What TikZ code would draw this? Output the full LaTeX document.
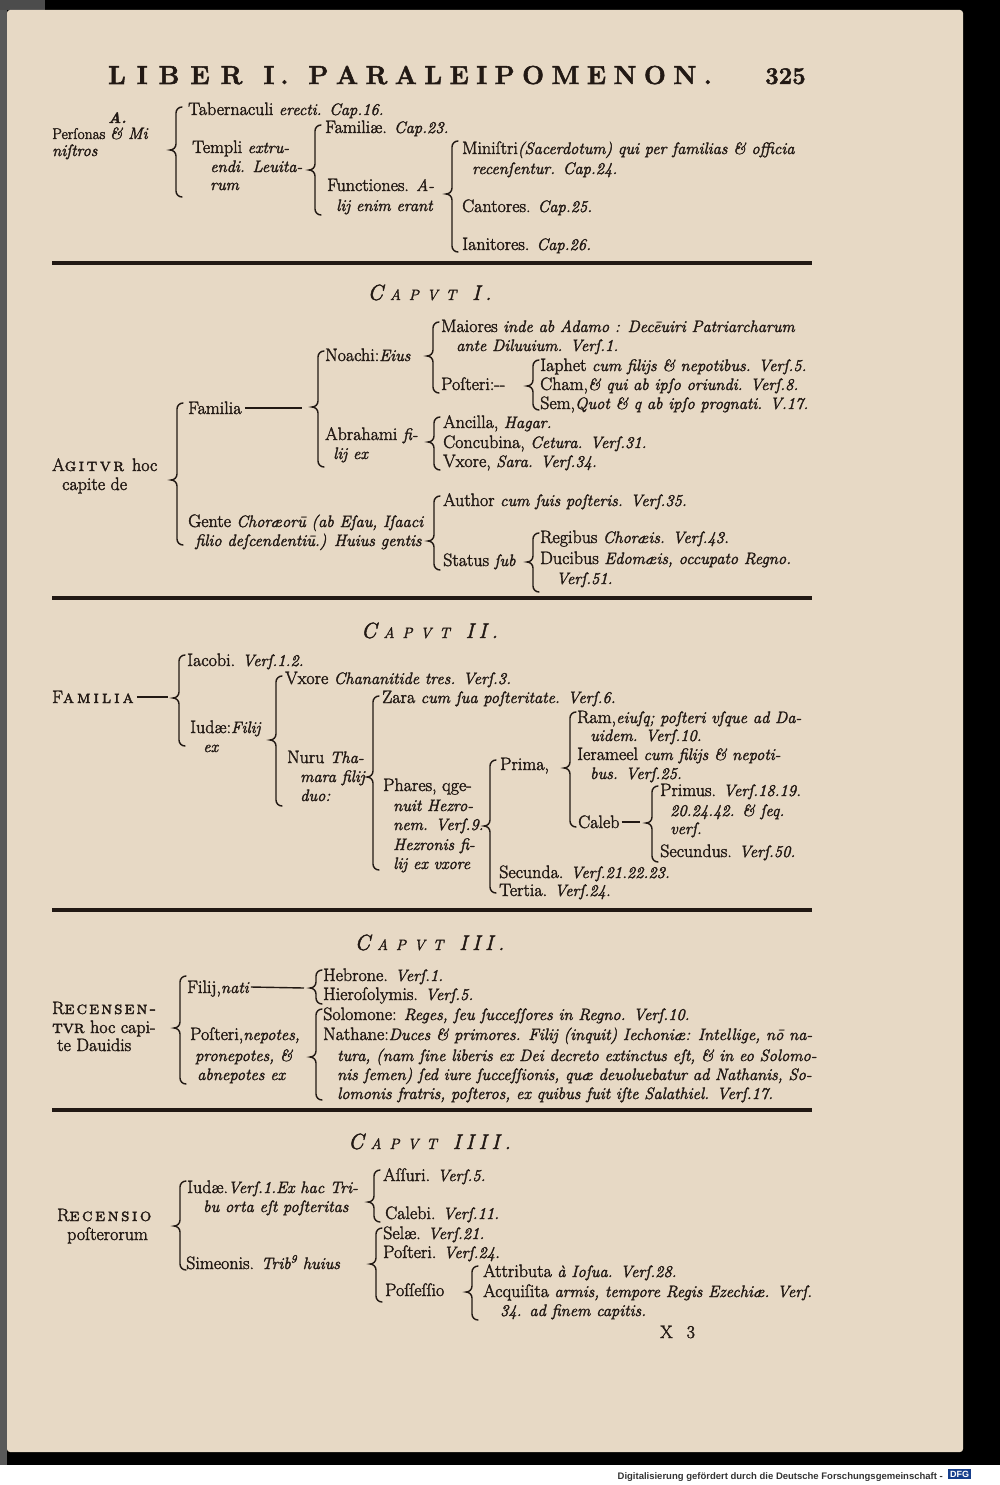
\documentclass[tikz,border=0pt]{standalone}
\usepackage{fontspec}
\setmainfont{Latin Modern Roman}[RawFeature={embolden=2}]
\newfontfamily\lmcaps{Latin Modern Roman Caps}[RawFeature={embolden=2}]
\newfontfamily\ftr{Liberation Sans}
\usetikzlibrary{calc}
\definecolor{page}{RGB}{231,217,197}
\definecolor{ink}{RGB}{34,25,20}
\definecolor{dfgblue}{RGB}{22,62,140}
\makeatletter
\newcommand\spo[2]{\def\spo@k{#1}\spo@a#2\@nil}
\def\spo@a#1{\ifx#1\@nil\else#1\kern\spo@k\relax\expandafter\spo@a\fi}
\makeatother
\newcommand\itx[1]{{\fontsize{16.5}{19}\selectfont\itshape #1}}
\newcommand\sca[1]{{\lmcaps #1}}
\newcommand\caput[1]{{\itshape\fontsize{22}{22}\selectfont C\kern7pt\fontsize{15}{15}\selectfont\spo{8pt}{APVT}\hspace{8pt}\fontsize{21}{22}\selectfont\spo{5pt}{#1}}}
\newcommand\Brc[4]{\draw[brc] (#1+6,#2) to[out=180,in=90] (#1,#2+6) -- (#1,#3-6) to[out=-90,in=0] (#1-6,#3) to[out=0,in=90] (#1,#3+6) -- (#1,#4-6) to[out=-90,in=180] (#1+6,#4);}
\tikzset{
  R/.style={anchor=base west,inner sep=0pt,text=ink,font=\fontsize{18}{19}\selectfont},
  hd/.style={anchor=base,inner sep=0pt,text=ink},
  brc/.style={draw=ink,line width=1.4pt,line cap=round},
  dsh/.style={draw=ink,line width=1.4pt},
  rule/.style={draw=ink,line width=3.8pt}
}
\begin{document}
\begin{tikzpicture}[x=1pt,y=-1pt]
\useasboundingbox (0,0) rectangle (1000,1485);
\fill[black] (0,0) rectangle (1000,1465);
\fill[white] (0,1465) rectangle (1000,1485);
\fill[black!65] (0,0) rectangle (7,1465);
\fill[black!70] (0,0) rectangle (45,10);
\fill[page,rounded corners=3pt] (7,10) rectangle (963,1452);
% header
\node[R,font=\fontsize{26}{28}\selectfont\bfseries] (hd) at (108,84) {\spo{11pt}{LIBER}\hspace{10pt}\spo{6pt}{I.}\hspace{14pt}\spo{7.5pt}{PARALEIPOMENON.}};
\node[R,font=\fontsize{24}{26}\selectfont\bfseries] (pg) at (765,84) {325};
% section A
\node[R,font=\fontsize{15}{17}\selectfont\bfseries\itshape] (a0) at (108,123) {A.};
\node[R,font=\fontsize{15.5}{17}\selectfont] (a1) at (52,139) {Perſonas \itx{\& Mi}};
\node[R] (a2) at (52,156) {\itx{niſtros}};
\Brc{176}{107}{150}{197}
\node[R] (a3) at (188,115) {Tabernaculi \itx{erecti. Cap.16.}};
\node[R] (a4) at (192,153) {Templi \itx{extru-}};
\node[R] (a5) at (210,172) {\itx{endi. Leuita-}};
\node[R] (a6) at (210,190) {\itx{rum}};
\Brc{315}{125}{170}{215}
\node[R] (a7) at (325,133) {Familiæ. \itx{Cap.23.}};
\node[R] (a8) at (327,191) {Functiones. \itx{A-}};
\node[R] (a9) at (336,211) {\itx{lij enim erant}};
\Brc{452}{141}{194}{252}
\node[R] (a10) at (462,154) {Miniſtri\itx{(Sacerdotum) qui per familias \& officia}};
\node[R] (a11) at (472,174) {\itx{recenſentur. Cap.24.}};
\node[R] (a12) at (462,212) {Cantores. \itx{Cap.25.}};
\node[R] (a13) at (462,250) {Ianitores. \itx{Cap.26.}};
\draw[rule] (52,263) coordinate (r1a) -- (812,263) coordinate (r1b);
% CAPUT I
\node[hd] (c1) at (432,300) {\caput{I.}};
\node[R] (b0) at (52,471) {A\sca{\spo{2.5pt}{gitvr}} hoc};
\node[R] (b1) at (62,490) {capite de};
\Brc{177}{403}{480}{545}
\node[R] (b2) at (188,414) {Familia};
\coordinate (tb2) at (302,408);
\draw[dsh] ($(b2.base east)+(3,-6)$) -- (tb2);
\Brc{318}{351}{407}{467}
\node[R] (b3) at (325,361) {Noachi:\itx{Eius}};
\node[R] (b4) at (325,440) {Abrahami \itx{fi-}};
\node[R] (b5) at (333,459) {\itx{lij ex}};
\Brc{433}{322}{356}{393}
\node[R] (b6) at (441,332) {Maiores \itx{inde ab Adamo : Decēuiri Patriarcharum}};
\node[R] (b7) at (456,351) {\itx{ante Diluuium. Verſ.1.}};
\node[R] (b8) at (441,390) {Poſteri:-{}-};
\Brc{533}{360}{386}{410}
\node[R] (b9) at (540,371) {Iaphet \itx{cum filijs \& nepotibus. Verſ.5.}};
\node[R] (b10) at (540,390) {Cham,\itx{\& qui ab ipſo oriundi. Verſ.8.}};
\node[R] (b11) at (540,409) {Sem,\itx{Quot \& q ab ipſo prognati. V.17.}};
\Brc{434}{417}{442}{470}
\node[R] (b12) at (443,428) {Ancilla, \itx{Hagar.}};
\node[R] (b13) at (443,448) {Concubina, \itx{Cetura. Verſ.31.}};
\node[R] (b14) at (443,467) {Vxore, \itx{Sara. Verſ.34.}};
\node[R] (b15) at (188,527) {Gente \itx{Choræorū (ab Eſau, Iſaaci}};
\node[R] (b16) at (195,546) {\itx{filio deſcendentiū.) Huius gentis}};
\Brc{434}{496}{541}{570}
\node[R] (b17) at (443,506) {Author \itx{cum ſuis poſteris. Verſ.35.}};
\node[R] (b18) at (443,566) {Status \itx{ſub}};
\Brc{533}{533}{562}{592}
\node[R] (b19) at (540,543) {Regibus \itx{Choræis. Verſ.43.}};
\node[R] (b20) at (540,564) {Ducibus \itx{Edomæis, occupato Regno.}};
\node[R] (b21) at (556,584) {\itx{Verſ.51.}};
\draw[rule] (52,598) coordinate (r2a) -- (812,598) coordinate (r2b);
% CAPUT II
\node[hd] (c2) at (432,638) {\caput{II.}};
\node[R] (d0) at (52,703) {F\sca{\spo{3pt}{amilia}}};
\coordinate (td0) at (168,697);
\draw[dsh] ($(d0.base east)+(0,-6)$) -- (td0);
\Brc{179}{655}{698}{746}
\node[R] (d1) at (187,666) {Iacobi. \itx{Verſ.1.2.}};
\node[R] (d2) at (190,733) {Iudæ:\itx{Filij}};
\node[R] (d3) at (203,752) {\itx{ex}};
\Brc{276}{676}{740}{806}
\node[R] (d4) at (285,684) {Vxore \itx{Chananitide tres. Verſ.3.}};
\node[R] (d5) at (287,763) {Nuru \itx{Tha-}};
\node[R] (d6) at (300,782) {\itx{mara filij}};
\node[R] (d7) at (300,801) {\itx{duo:}};
\Brc{373}{696}{777}{870}
\node[R] (d8) at (382,703) {Zara \itx{cum ſua poſteritate. Verſ.6.}};
\node[R] (d9) at (383,791) {Phares, qge-};
\node[R] (d10) at (393,811) {\itx{nuit Hezro-}};
\node[R] (d11) at (393,830) {\itx{nem. Verſ.9.}};
\node[R] (d12) at (393,850) {\itx{Hezronis fi-}};
\node[R] (d13) at (393,869) {\itx{lij ex vxore}};
\Brc{490}{760}{826}{893}
\node[R] (d14) at (500,770) {Prima,};
\Brc{570}{712}{768}{827}
\node[R] (d15) at (577,723) {Ram,\itx{eiuſq; poſteri vſque ad Da-}};
\node[R] (d16) at (590,741) {\itx{uidem. Verſ.10.}};
\node[R] (d17) at (577,760) {Ierameel \itx{cum filijs \& nepoti-}};
\node[R] (d18) at (590,779) {\itx{bus. Verſ.25.}};
\node[R] (d19) at (578,828) {Caleb};
\coordinate (td19) at (640,822);
\draw[dsh] ($(d19.base east)+(2,-6)$) -- (td19);
\Brc{652}{786}{823}{862}
\node[R] (d20) at (660,796) {Primus. \itx{Verſ.18.19.}};
\node[R] (d21) at (670,816) {\itx{20.24.42. \& ſeq.}};
\node[R] (d22) at (670,834) {\itx{verſ.}};
\node[R] (d23) at (660,857) {Secundus. \itx{Verſ.50.}};
\node[R] (d24) at (499,878) {Secunda. \itx{Verſ.21.22.23.}};
\node[R] (d25) at (499,896) {Tertia. \itx{Verſ.24.}};
\draw[rule] (52,910) coordinate (r3a) -- (812,910) coordinate (r3b);
% CAPUT III
\node[hd] (c3) at (432,950) {\caput{III.}};
\node[R] (e0) at (52,1014) {R\sca{\spo{2pt}{ecensen-}}};
\node[R] (e1) at (52,1033) {\sca{tvr} hoc capi-};
\node[R] (e2) at (57,1051) {te Dauidis};
\Brc{180}{976}{1028}{1084}
\node[R] (e3) at (187,993) {Filij,\itx{nati}};
\coordinate (te3) at (304,988);
\draw[dsh] ($(e3.base east)+(2,-6)$) -- (te3);
\Brc{316}{970}{988}{1004}
\node[R] (e4) at (323,981) {Hebrone. \itx{Verſ.1.}};
\node[R] (e5) at (323,1000) {Hieroſolymis. \itx{Verſ.5.}};
\node[R] (e6) at (190,1040) {Poſteri,\itx{nepotes,}};
\node[R] (e7) at (195,1061) {\itx{pronepotes, \&}};
\node[R] (e8) at (197,1080) {\itx{abnepotes ex}};
\Brc{316}{1009}{1057}{1100}
\node[R] (e9) at (323,1020) {Solomone: \itx{Reges, ſeu ſucceſſores in Regno. Verſ.10.}};
\node[R] (e10) at (323,1040) {Nathane:\itx{Duces \& primores. Filij (inquit) Iechoniæ: Intellige, nō na-}};
\node[R] (e11) at (337,1061) {\itx{tura, (nam ſine liberis ex Dei decreto extinctus eſt, \& in eo Solomo-}};
\node[R] (e12) at (337,1080) {\itx{nis ſemen) ſed iure ſucceſſionis, quæ deuoluebatur ad Nathanis, So-}};
\node[R] (e13) at (337,1099) {\itx{lomonis fratris, poſteros, ex quibus fuit iſte Salathiel. Verſ.17.}};
\draw[rule] (52,1110) coordinate (r4a) -- (812,1110) coordinate (r4b);
% CAPUT IIII
\node[hd] (c4) at (432,1149) {\caput{IIII.}};
\node[R] (f0) at (57,1221) {R\sca{\spo{2.5pt}{ecensio}}};
\node[R] (f1) at (67,1240) {poſterorum};
\Brc{180}{1181}{1226}{1270}
\node[R] (f2) at (187,1193) {Iudæ.\itx{Verſ.1.Ex hac Tri-}};
\node[R] (f3) at (203,1212) {\itx{bu orta eſt poſteritas}};
\node[R] (f4) at (186,1269) {Simeonis. \itx{Trib\textsuperscript{9} huius}};
\Brc{374}{1170}{1202}{1222}
\node[R] (f5) at (383,1181) {Aſſuri. \itx{Verſ.5.}};
\node[R] (f6) at (385,1219) {Calebi. \itx{Verſ.11.}};
\Brc{376}{1228}{1264}{1302}
\node[R] (f7) at (383,1239) {Selæ. \itx{Verſ.21.}};
\node[R] (f8) at (383,1258) {Poſteri. \itx{Verſ.24.}};
\node[R] (f9) at (385,1296) {Poſſeſſio};
\Brc{472}{1266}{1292}{1320}
\node[R] (f10) at (483,1277) {Attributa \itx{à Ioſua. Verſ.28.}};
\node[R] (f11) at (483,1297) {Acquiſita \itx{armis, tempore Regis Ezechiæ. Verſ.}};
\node[R] (f12) at (500,1316) {\itx{34. ad finem capitis.}};
\node[R] (f13) at (660,1338) {X\hspace{14pt}3};
% footer
\node[anchor=base east,inner sep=0pt,font=\ftr\bfseries\fontsize{9.5}{10}\selectfont,text=black!80] (ft) at (943,1479) {Digitalisierung gefördert durch die Deutsche Forschungsgemeinschaft -};
\node[fill=dfgblue,text=white,font=\ftr\bfseries\fontsize{9}{10}\selectfont,inner sep=2pt,anchor=west] (dfg) at (948,1474) {DFG};
\end{tikzpicture}
\end{document}
